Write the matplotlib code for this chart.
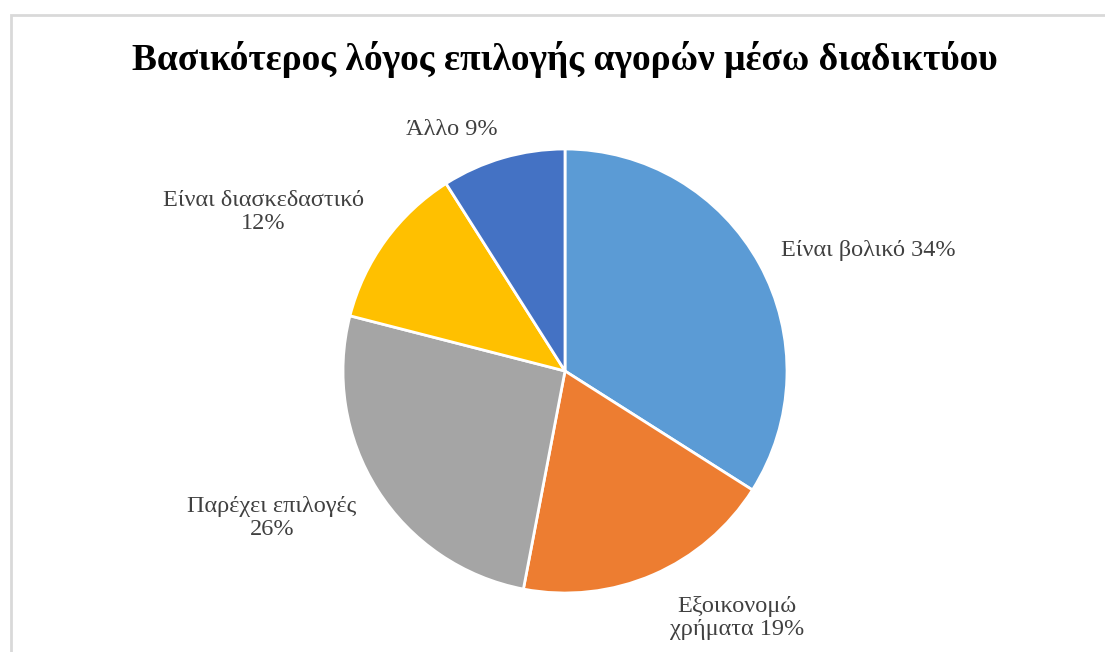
import matplotlib
matplotlib.use('Agg')
import matplotlib.pyplot as plt
from matplotlib.patches import Rectangle

plt.rcParams['font.family'] = ['Liberation Serif', 'DejaVu Serif']

labels = ['Είναι βολικό', 'Εξοικονομώ\nχρήματα', 'Παρέχει επιλογές\n', 'Είναι διασκεδαστικό\n', 'Άλλο']
shares = [34, 19, 26, 12, 9]
colors = ['#5B9BD5', '#ED7D31', '#A5A5A5', '#FFC000', '#4472C4']
# label anchor points, in units of the pie radius
label_pos = [(1.365, 0.545), (0.775, -1.113), (-1.32, -0.662), (-1.36, 0.716), (-0.509, 1.086)]

W, H = 1105, 652
cx, cy, R = 565, 371, 222

fig = plt.figure(figsize=(W / 100, H / 100), dpi=100)
ax = fig.add_axes([0, 0, 1, 1])

ax.pie(shares, colors=colors, startangle=90, counterclock=False,
       wedgeprops=dict(edgecolor='white', linewidth=2))
ax.set_aspect('auto')
ax.set_xlim(-cx / R, (W - cx) / R)
ax.set_ylim((cy - H) / R, cy / R)
ax.axis('off')

for lab, val, (x, y) in zip(labels, shares, label_pos):
    txt = f'{lab}{val}%' if lab.endswith('\n') else f'{lab} {val}%'
    ax.text(x, y, txt, ha='center', va='center', fontsize=17.5,
            color='#404040', linespacing=1.15)

fig.text(565 / W, 1 - 59 / H, 'Βασικότερος λόγος επιλογής αγορών μέσω διαδικτύου',
         ha='center', va='center', fontsize=27, fontweight='bold', color='black')

# light frame around the chart area
fig.patches.append(Rectangle((11 / W, -0.1), 1.0, 1.1 - 15 / H, transform=fig.transFigure,
                             fill=False, edgecolor='#d9d9d9', linewidth=2))

fig.savefig('out.png', dpi=100)
